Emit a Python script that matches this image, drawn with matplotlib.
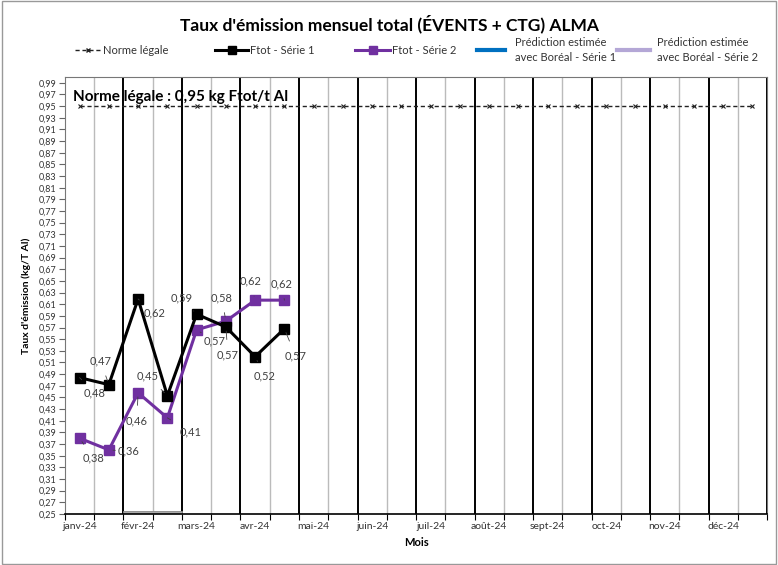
import matplotlib
matplotlib.use("Agg")
import matplotlib.pyplot as plt
import numpy as np
from matplotlib.patches import Rectangle
from matplotlib.lines import Line2D

plt.rcParams['font.family'] = ['Lato', 'DejaVu Sans']

months = ["janv-24", "févr-24", "mars-24", "avr-24", "mai-24", "juin-24",
          "juil-24", "août-24", "sept-24", "oct-24", "nov-24", "déc-24"]
norme = 0.95
serie1 = [0.484, 0.472, 0.619, 0.453, 0.593, 0.571, 0.520, 0.568]
serie2 = [0.380, 0.360, 0.458, 0.415, 0.566, 0.581, 0.617, 0.617]
yticks_vals = [round(0.25 + 0.02 * i, 2) for i in range(38)]
legend_labels = ["Norme légale", "Ftot - Série 1", "Ftot - Série 2",
                 "Prédiction estimée\navec Boréal - Série 1", "Prédiction estimée\navec Boréal - Série 2"]

# label offsets in points (style only)
off1 = [(11, -11), (-6, 17), (11.5, -10), (-14, 14), (-11, 12), (1.5, -20), (7, -14), (8, -19.5)]
off2 = [(10, -14.5), (14.5, -1), (-1, -20), (16.5, -10), (13, -8), (-3, 17), (-3.6, 13.7), (-2, 12)]

W, H = 778, 565
fig = plt.figure(figsize=(W / 100, H / 100), dpi=100)
fig.patches.append(Rectangle((0.002, 0.002), 0.996, 0.996, transform=fig.transFigure,
                             fill=False, edgecolor="#999999", lw=1))
ax = fig.add_axes([0.0835, 0.0903, 0.9025, 0.7734])

n = len(months) * 2
ax.set_xlim(-0.5, n - 0.5)
ax.set_ylim(0.25, 1.0)

for k in range(len(months) + 1):
    ax.axvline(-0.5 + 2 * k, color="black", lw=1.4, zorder=1)
for k in range(len(months)):
    ax.axvline(0.5 + 2 * k, color="#BBBBBB", lw=1.0, zorder=1)

ax.add_patch(Rectangle((1.5, 0.25), 2, 0.005, facecolor="#AAAAAA", edgecolor="#888888", lw=0.6, zorder=2))

x_all = np.arange(n)
ax.plot(x_all, [norme] * n, linestyle=(0, (3, 2)), color="#222222", lw=1.0,
        marker="x", markersize=2.5, markeredgewidth=0.8, zorder=3)

x1 = np.arange(len(serie1))
x2 = np.arange(len(serie2))
ax.plot(x1, serie1, color="black", lw=2.2, marker="s", markersize=7, zorder=5)
ax.plot(x2, serie2, color="#7030A0", lw=2.2, marker="s", markersize=7, zorder=4)

def fmt(v):
    return f"{v:.2f}".replace(".", ",")

for xs, ys, offs in ((x1, serie1, off1), (x2, serie2, off2)):
    for x, v, o in zip(xs, ys, offs):
        ax.annotate(fmt(v), (x, v), xytext=o, textcoords="offset points", ha="center", va="center",
                    fontsize=8, color="#404040",
                    arrowprops=dict(arrowstyle="-", color="#404040", lw=0.6, shrinkA=5, shrinkB=3),
                    zorder=6)

ax.text(0.012, 0.955, "Norme légale : 0,95 kg Ftot/t Al", transform=ax.transAxes,
        fontsize=11, fontweight="bold", ha="left", va="center", zorder=7)

ax.set_yticks(yticks_vals)
ax.set_yticklabels([fmt(v) for v in yticks_vals], fontsize=6.5, color="#333333")
ax.set_xticks(np.arange(-0.5, n, 1.0))
ax.set_xticklabels([])
ax.set_xticks(np.arange(0, n, 2), minor=True)
ax.set_xticklabels(months, minor=True, fontsize=7.5, color="#333333")
ax.tick_params(axis="x", which="minor", length=0, pad=6)
ax.tick_params(axis="x", which="major", length=4, color="black", direction="out")
ax.tick_params(axis="y", length=4, color="#666666", pad=2)

for s in ["left", "right", "top"]:
    ax.spines[s].set_color("#777777")
ax.spines["bottom"].set_color("black")
ax.spines["bottom"].set_linewidth(1.2)

ax.set_ylabel("Taux d'émission (kg/T Al)", fontsize=7.5, fontweight="bold", labelpad=6)
ax.set_xlabel("Mois", fontsize=8, fontweight="bold", labelpad=4)

fig.suptitle("Taux d'émission mensuel total (ÉVENTS + CTG) ALMA", x=0.5, y=0.975,
             fontsize=12.5, fontweight="bold")

# manual legend (pixel positions of handle start/end, text start)
leg_styles = [
    dict(color="#222222", linestyle=(0, (3, 2)), lw=1.0, marker="x", markersize=2.5, markevery=[1]),
    dict(color="black", lw=2.2, marker="s", markersize=6, markevery=[1]),
    dict(color="#7030A0", lw=2.2, marker="s", markersize=6, markevery=[1]),
    dict(color="#0070C0", lw=3),
    dict(color="#B4A7D6", lw=3),
]
leg_pos = [(75, 100, 103), (215, 248, 250), (355, 390, 392), (477, 505, 515), (617, 650, 657)]
ly = 50
for (x0, x1p, xt), st, lab in zip(leg_pos, leg_styles, legend_labels):
    xm = (x0 + x1p) / 2
    fig.add_artist(Line2D([x0 / W, xm / W, x1p / W], [1 - ly / H] * 3, transform=fig.transFigure, **st))
    fig.text(xt / W, 1 - ly / H, lab, fontsize=8, color="#333333", ha="left", va="center",
             linespacing=1.4)

fig.savefig("out.png", dpi=100)
